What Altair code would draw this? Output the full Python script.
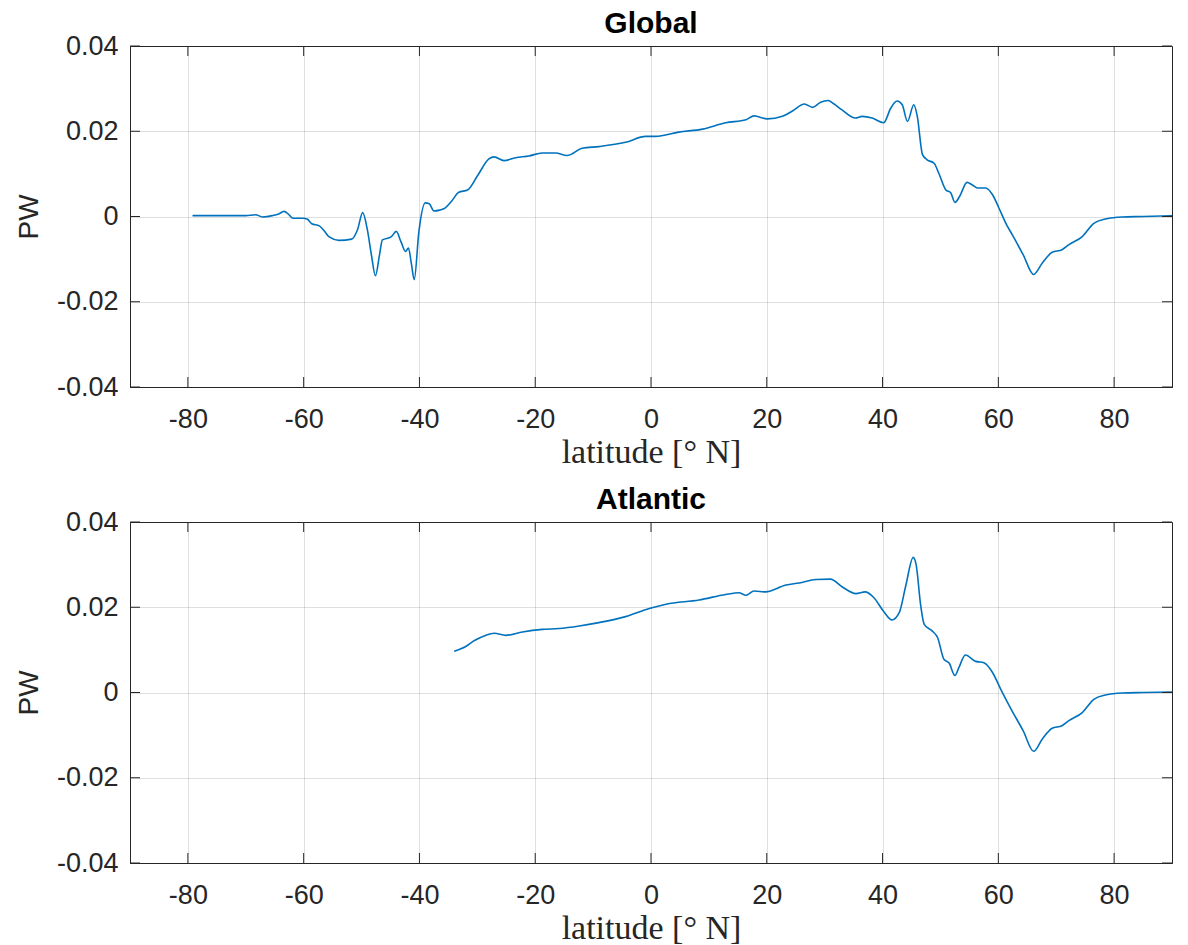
import altair as alt
import pandas as pd

# ---- data ----
global_lat = [-79.2, -74.0, -70.0, -68.3, -67.1, -65.4, -64.3, -63.4, -62.6, -61.9,
              -60.2, -59.4, -58.6, -57.3, -56.5, -55.6, -53.9, -51.7, -50.7, -49.8,
              -49.0, -48.3, -47.6, -46.9, -46.4, -44.9, -44.0, -43.2, -42.4, -41.9,
              -41.4, -40.9, -40.1, -39.0, -38.3, -37.5, -36.5, -35.8, -34.5, -33.2,
              -31.7, -30.0, -28.0, -27.1, -25.4, -23.4, -21.1, -18.8, -16.5, -14.5,
              -11.9, -9.0, -4.4, -0.9, 0.8, 4.8, 8.9, 12.9, 16.4, 17.8,
              20.1, 22.7, 24.5, 26.5, 27.9, 29.3, 30.6, 31.5, 33.0, 35.3,
              36.5, 38.2, 40.2, 41.4, 42.5, 43.4, 44.3, 45.4, 46.0, 46.9,
              47.7, 48.9, 49.7, 50.9, 51.8, 52.5, 53.3, 54.6, 55.5, 56.4,
              57.8, 59.0, 60.1, 61.3, 62.5, 64.3, 66.1, 67.6, 69.3, 71.0,
              72.2, 74.5, 76.5, 78.5, 81.4, 85.0, 90.0]
global_pw = [0.0002, 0.0002, 0.0002, 0.0004, -0.0001, 0.0002, 0.0006, 0.0012, 0.0005, -0.0004,
             -0.0004, -0.0006, -0.0017, -0.0022, -0.0033, -0.0048, -0.0056, -0.0053, -0.0031, 0.0009,
             -0.0031, -0.0090, -0.0139, -0.0090, -0.0055, -0.0048, -0.0035, -0.0059, -0.0082, -0.0074,
             -0.0110, -0.0148, -0.0036, 0.0032, 0.0030, 0.0013, 0.0015, 0.0018, 0.0035, 0.0057,
             0.0062, 0.0095, 0.0135, 0.0140, 0.0131, 0.0138, 0.0142, 0.0149, 0.0149, 0.0143,
             0.0160, 0.0164, 0.0174, 0.0188, 0.0188, 0.0198, 0.0205, 0.0220, 0.0227, 0.0236,
             0.0229, 0.0235, 0.0248, 0.0264, 0.0256, 0.0268, 0.0272, 0.0265, 0.0250, 0.0231,
             0.0235, 0.0231, 0.0220, 0.0254, 0.0271, 0.0262, 0.0223, 0.0262, 0.0235, 0.0145,
             0.0133, 0.0125, 0.0102, 0.0063, 0.0055, 0.0033, 0.0047, 0.0080, 0.0074, 0.0067,
             0.0067, 0.0051, 0.0020, -0.0016, -0.0045, -0.0090, -0.0136, -0.0109, -0.0084, -0.0078,
             -0.0066, -0.0047, -0.0016, -0.0006, -0.0001, 0.0000, 0.0002]

atl_lat = [-34.0, -32.0, -30.5, -28.6, -27.1, -25.1, -22.2, -18.8, -15.9, -12.4,
           -9.0, -4.4, -0.3, 2.6, 8.3, 12.9, 15.2, 16.4, 17.8, 19.8,
           23.3, 25.6, 28.5, 31.0, 33.0, 35.4, 37.0, 38.4, 40.2, 41.6,
           42.9, 44.0, 45.3, 45.8, 46.6, 47.2, 48.6, 49.5, 50.6, 51.5,
           52.5, 53.2, 54.3, 56.1, 57.5, 59.0, 60.4, 62.2, 64.3, 66.1,
           67.6, 69.3, 71.0, 72.2, 74.5, 76.5, 78.5, 81.4, 85.0, 90.0]
atl_pw = [0.0097, 0.0108, 0.0122, 0.0134, 0.0139, 0.0134, 0.0142, 0.0148, 0.0150, 0.0156,
          0.0164, 0.0178, 0.0197, 0.0207, 0.0217, 0.0230, 0.0234, 0.0228, 0.0238, 0.0236,
          0.0252, 0.0257, 0.0265, 0.0266, 0.0248, 0.0232, 0.0236, 0.0224, 0.0190, 0.0170,
          0.0188, 0.0250, 0.0317, 0.0300, 0.0203, 0.0160, 0.0144, 0.0129, 0.0078, 0.0069,
          0.0040, 0.0059, 0.0088, 0.0073, 0.0070, 0.0047, 0.0008, -0.0039, -0.0090, -0.0138,
          -0.0109, -0.0084, -0.0078, -0.0066, -0.0047, -0.0016, -0.0006, -0.0001, 0.0000, 0.0001]

x_ticks = [-80, -60, -40, -20, 0, 20, 40, 60, 80]
y_ticks = [-0.04, -0.02, 0, 0.02, 0.04]

W, H = 1042, 341
TICK = 10
INK = "#262626"


def panel(lat, pw, title):
    df = pd.DataFrame({"lat": lat, "pw": pw})
    xs = alt.Scale(domain=[-90, 90], nice=False, zero=False)
    ys = alt.Scale(domain=[-0.04, 0.04], nice=False, zero=False)
    xaxis = alt.Axis(values=x_ticks, title="latitude [° N]", grid=True, ticks=False,
                     labelExpr="datum.value < 0 ? '-' + format(-datum.value, 'd') : format(datum.value, 'd')",
                     labelPadding=19, titlePadding=3, labelFlush=False,
                     titleFont="Liberation Serif", titleFontSize=34,
                     titleFontWeight="normal", titleColor=INK)
    yaxis = alt.Axis(values=y_ticks, title="PW", grid=True, ticks=False,
                     labelExpr="datum.value == 0 ? '0' : (datum.value < 0 ? '-' + format(-datum.value, '.2f') : format(datum.value, '.2f'))",
                     labelPadding=12, titlePadding=13, labelFlush=False,
                     titleFont="Liberation Sans", titleFontSize=28,
                     titleFontWeight="normal", titleColor=INK)
    X = alt.X("lat:Q", scale=xs, axis=xaxis)
    Y = alt.Y("pw:Q", scale=ys, axis=yaxis)

    line = alt.Chart(df).mark_line(color="#0072BD", strokeWidth=1.6, clip=True,
                                   interpolate="monotone").encode(x=X, y=Y)

    xt = pd.DataFrame({"lat": x_ticks})
    yt = pd.DataFrame({"pw": y_ticks})
    tb = alt.Chart(xt).mark_rule(color=INK, strokeWidth=1).encode(
        x=X, y=alt.value(H), y2=alt.value(H - TICK))
    tt = alt.Chart(xt).mark_rule(color=INK, strokeWidth=1).encode(
        x=X, y=alt.value(0), y2=alt.value(TICK))
    tl = alt.Chart(yt).mark_rule(color=INK, strokeWidth=1).encode(
        y=Y, x=alt.value(0), x2=alt.value(TICK))
    tr = alt.Chart(yt).mark_rule(color=INK, strokeWidth=1).encode(
        y=Y, x=alt.value(W), x2=alt.value(W - TICK))

    return alt.layer(line, tb, tt, tl, tr).properties(
        width=W, height=H,
        title=alt.TitleParams(title, font="Liberation Sans", fontSize=30,
                              fontWeight="bold", color="black", offset=-7),
    )


chart = alt.vconcat(
    panel(global_lat, global_pw, "Global"),
    panel(atl_lat, atl_pw, "Atlantic"),
    spacing=14,
).properties(
    padding={"left": 14, "top": 8, "right": 5, "bottom": 5},
    background="white",
).configure_view(
    stroke=INK, strokeWidth=1
).configure_axis(
    labelFont="Liberation Sans", labelFontSize=27, labelColor=INK,
    domainColor=INK, domainWidth=1,
    gridColor=INK, gridOpacity=0.15, gridWidth=1,
)

chart.save("out.html", embed_options={"renderer": "svg", "actions": False})
